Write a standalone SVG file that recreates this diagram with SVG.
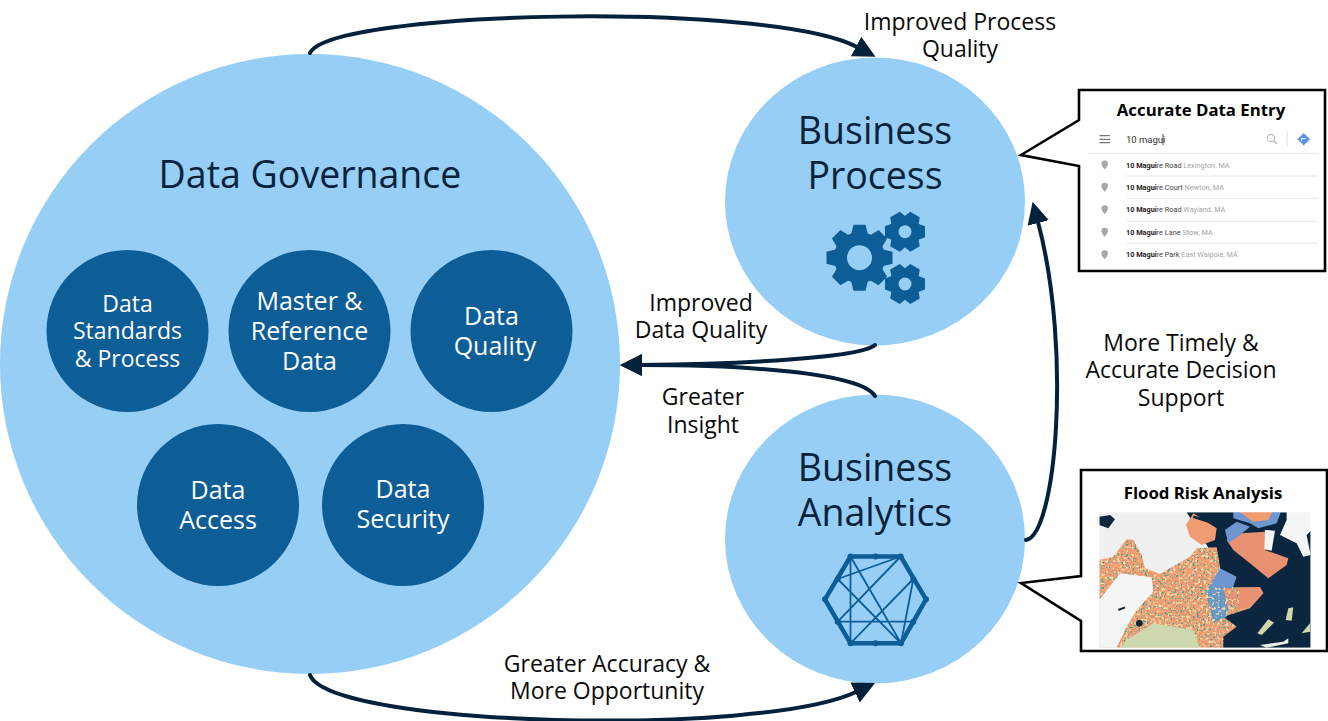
<svg xmlns="http://www.w3.org/2000/svg" xmlns:xlink="http://www.w3.org/1999/xlink" width="1328" height="721" viewBox="0 0 1328 721">
<style>
text{font-family:"Open Sans","Noto Sans","DejaVu Sans",sans-serif;text-anchor:middle}
.light{fill:#97cef6}
.dark{fill:#0d5d96}
.big{font-size:37.500px;fill:#06233b}
.in{font-size:25px;fill:#fff}
.lab{font-size:23px;fill:#0a0a0a}
.conn{fill:none;stroke:#03213a;stroke-width:4;stroke-linecap:round;marker-end:url(#ah)}
.box{fill:#fff;stroke:#000;stroke-width:2.6;stroke-linejoin:miter}
.ttl{font-size:16.800px;font-weight:700;fill:#000}
.row{font-family:Roboto,"Liberation Sans",sans-serif;font-size:7.300px;text-anchor:start;fill:#444}
.row .b{font-weight:700;fill:#222}
.row .g{fill:#a5a5a5}
.hl{stroke:#e6e6e6;stroke-width:1}
.thick{stroke:#0d5d96;stroke-width:4.500;stroke-linecap:round;stroke-linejoin:round;fill:none}
.thin{stroke:#0d5d96;stroke-width:1.800;fill:none}
</style>
<defs>
<marker id="ah" markerUnits="userSpaceOnUse" markerWidth="26" markerHeight="26" refX="1" refY="11" orient="auto"><path d="M0,0L22,11L0,22Z" fill="#03213a"/></marker>
<polygon id="t1" points="-6,-33 6,-33 8.500,-23 -8.500,-23" fill="#0d5d96"/>
<polygon id="t2" points="-5.500,-20 5.500,-20 8.500,-12 -8.500,-12" fill="#0d5d96"/>
<g id="g2"><circle r="10.500" fill="none" stroke="#0d5d96" stroke-width="8"/><use xlink:href="#t2" transform="rotate(30)"/><use xlink:href="#t2" transform="rotate(90)"/><use xlink:href="#t2" transform="rotate(150)"/><use xlink:href="#t2" transform="rotate(210)"/><use xlink:href="#t2" transform="rotate(270)"/><use xlink:href="#t2" transform="rotate(330)"/></g>
<path id="pn" d="M0,-4.500a3.300,3.300 0 0 1 3.300,3.300c0,2.300-3.300,5.700-3.300,5.700s-3.300-3.400-3.300-5.700a3.300,3.300 0 0 1 3.300-3.300Z" fill="#a8a8a8"/>
<filter id="sp1" x="0" y="0" width="1" height="1"><feTurbulence type="fractalNoise" baseFrequency="0.16" numOctaves="2" seed="4"/><feColorMatrix values="0 0 0 0 0 0 0 0 0 0 0 0 0 0 0 0 0 0 8 -4.700"/><feComposite in="SourceGraphic" operator="in"/></filter>
<filter id="sp2" x="0" y="0" width="1" height="1"><feTurbulence type="fractalNoise" baseFrequency="0.12" numOctaves="2" seed="11"/><feColorMatrix values="0 0 0 0 0 0 0 0 0 0 0 0 0 0 0 0 0 0 7 -3.800"/><feComposite in="SourceGraphic" operator="in"/></filter>
<filter id="soft" x="-5%" y="-5%" width="110%" height="110%"><feGaussianBlur stdDeviation="1.800"/></filter>
<clipPath id="land"><path d="M238,300L280,290L320,238L340,240L365,285L375,325L420,342L510,290L530,265L590,262L600,320L570,382L720,382L730,400L690,445L610,470L650,500L610,530L610,563L238,563Z"/></clipPath>
<clipPath id="mapc"><rect x="238" y="157" width="634" height="406"/></clipPath>
</defs>
<rect width="1328" height="721" fill="#fff"/>

<g id="data-governance">
<circle class="light" cx="310" cy="364" r="310"/>
<text class="big" x="310" y="188">Data Governance</text>
</g>
<g id="data-standards"><circle class="dark" cx="127.500" cy="331" r="81"/><text class="in" style="font-size:23px" x="127.500" y="312">Data</text><text class="in" style="font-size:23px" x="127.500" y="339">Standards</text><text class="in" style="font-size:23px" x="127.500" y="367">&amp; Process</text></g>
<g id="master-reference"><circle class="dark" cx="309.500" cy="331" r="81"/><text class="in" x="309.500" y="310">Master &amp;</text><text class="in" x="309.500" y="340">Reference</text><text class="in" x="309.500" y="370">Data</text></g>
<g id="data-quality"><circle class="dark" cx="491.500" cy="331" r="81"/><text class="in" x="491.500" y="325">Data</text><text class="in" x="495" y="355">Quality</text></g>
<g id="data-access"><circle class="dark" cx="218" cy="505" r="81"/><text class="in" x="218" y="499">Data</text><text class="in" x="218" y="529">Access</text></g>
<g id="data-security"><circle class="dark" cx="403" cy="505" r="81"/><text class="in" x="403" y="498">Data</text><text class="in" x="403" y="528">Security</text></g>

<g id="business-process">
<ellipse class="light" cx="875" cy="201.500" rx="150" ry="144"/>
<text class="big" x="875" y="144">Business</text><text class="big" x="875" y="189">Process</text>
<g transform="translate(859.500,257.700)"><circle r="19" fill="none" stroke="#0d5d96" stroke-width="13"/><use xlink:href="#t1"/><use xlink:href="#t1" transform="rotate(45)"/><use xlink:href="#t1" transform="rotate(90)"/><use xlink:href="#t1" transform="rotate(135)"/><use xlink:href="#t1" transform="rotate(180)"/><use xlink:href="#t1" transform="rotate(225)"/><use xlink:href="#t1" transform="rotate(270)"/><use xlink:href="#t1" transform="rotate(315)"/></g>
<use xlink:href="#g2" x="905" y="231.700"/>
<use xlink:href="#g2" x="905" y="284"/>
</g>

<g id="business-analytics">
<ellipse class="light" cx="875" cy="539" rx="150" ry="144.500"/>
<text class="big" x="875" y="481">Business</text><text class="big" x="875" y="526">Analytics</text>
<path class="thick" d="M850.500,556.500H900.700L926,599.300L901,643.300H850.500L825,599.300Z"/>
<path class="thin" d="M850.500,556.500V643.300M837.700,579L900.700,556.500M850.500,556.500L901,643.300M900.700,556.500L837.700,621.700M913.300,579L850.500,643.300M837.700,579L901,643.300M837.700,621.700H913.300M913.300,579L901,643.300"/>
<g class="dark"><circle cx="850.500" cy="556.500" r="3"/><circle cx="875.700" cy="556.500" r="3"/><circle cx="900.700" cy="556.500" r="3"/><circle cx="913.300" cy="579" r="3"/><circle cx="926" cy="599.300" r="3"/><circle cx="913.300" cy="621.700" r="3"/><circle cx="901" cy="643.300" r="3"/><circle cx="875.700" cy="643.300" r="3"/><circle cx="850.500" cy="643.300" r="3"/><circle cx="837.700" cy="621.700" r="3"/><circle cx="825" cy="599.300" r="3"/><circle cx="837.700" cy="579" r="3"/></g>
</g>

<g id="connectors">
<path class="conn" d="M310,53C330,10 770,1 857,47"/>
<path class="conn" d="M310,675C330,727 760,737 856,692"/>
<path class="conn" d="M875,345C860,358 740,364 641,365"/>
<path class="conn" d="M875,396C860,372 740,365 641,365"/>
<path class="conn" d="M1026,540C1056,535 1072,350 1038,222"/>
</g>

<g id="labels">
<text class="lab" x="960" y="30">Improved Process</text><text class="lab" x="960" y="57">Quality</text>
<text class="lab" x="701" y="311">Improved</text><text class="lab" x="701" y="338">Data Quality</text>
<text class="lab" x="703" y="405">Greater</text><text class="lab" x="703" y="433">Insight</text>
<text class="lab" x="1181" y="351">More Timely &amp;</text><text class="lab" x="1181" y="378">Accurate Decision</text><text class="lab" x="1181" y="406">Support</text>
<text class="lab" x="607" y="672">Greater Accuracy &amp;</text><text class="lab" x="607" y="699">More Opportunity</text>
</g>

<g id="accurate-data-entry">
<path class="box" d="M1079,120V90H1325V271H1079V166L1021,155Z"/>
<text class="ttl" x="1201" y="116">Accurate Data Entry</text>
<path d="M1099.500,135.700H1110M1099.500,139.300H1110M1099.500,142.700H1110" stroke="#777" stroke-width="1.200"/>
<text class="row" x="1126" y="143" style="font-size:9.500px;fill:#333">10 magui</text>
<path d="M1163,134V145" stroke="#222" stroke-width=".8"/>
<circle cx="1271" cy="138" r="3.600" fill="none" stroke="#bbb" stroke-width="1.100"/><path d="M1273.700,140.700L1277,144" stroke="#bbb" stroke-width="1.300"/>
<path d="M1287.300,131V147" stroke="#e2e2e2"/>
<path d="M1303.700,133L1310,139.300L1303.700,145.600L1297.400,139.300Z" fill="#5b93ee"/><path d="M1301.500,141V138.500H1305.500" stroke="#fff" fill="none"/>
<path class="hl" d="M1088,153.300H1318M1126,176H1318M1126,198.300H1318M1126,221.300H1318M1126,243.300H1318"/>
<use xlink:href="#pn" x="1104.700" y="165"/><use xlink:href="#pn" x="1104.700" y="187.300"/><use xlink:href="#pn" x="1104.700" y="209.700"/><use xlink:href="#pn" x="1104.700" y="232.300"/><use xlink:href="#pn" x="1104.700" y="254.700"/>
<text class="row" x="1126" y="167.500"><tspan class="b">10 Magui</tspan>re Road <tspan class="g">Lexington, MA</tspan></text>
<text class="row" x="1126" y="189.800"><tspan class="b">10 Magui</tspan>re Court <tspan class="g">Newton, MA</tspan></text>
<text class="row" x="1126" y="212.200"><tspan class="b">10 Magui</tspan>re Road <tspan class="g">Wayland, MA</tspan></text>
<text class="row" x="1126" y="234.800"><tspan class="b">10 Magui</tspan>re Lane <tspan class="g">Stow, MA</tspan></text>
<text class="row" x="1126" y="257.200"><tspan class="b">10 Magui</tspan>re Park <tspan class="g">East Walpole, MA</tspan></text>
</g>

<g id="flood-risk-analysis">
<path class="box" d="M1081,576V470H1327V651H1081V621L1021,583Z"/>
<text class="ttl" x="1203" y="499">Flood Risk Analysis</text>
<g transform="translate(1020,460) scale(.3333)"><g clip-path="url(#mapc)"><g filter="url(#soft)">
<rect x="230" y="150" width="650" height="420" fill="#eff0ef"/>
<path d="M238,170L270,165L285,178L265,205L238,195Z" fill="#0b2840"/>
<path d="M500,157H872V563H600V320Z" fill="#0b2840"/>
<path d="M640,150H785L770,190L715,205L690,190L640,175Z" fill="#6f96cf"/>
<path d="M650,150H760L745,180L700,185Z" fill="#ef9c73"/>
<path d="M780,225L800,180L800,150H880V205L860,225L872,285L850,290L830,250Z" fill="#f3f4f4"/>
<path d="M238,300L280,290L320,238L340,240L365,285L375,325L420,342L510,290L530,265L590,262L600,320L570,382L720,382L730,400L690,445L610,470L650,500L610,530L610,563L238,563Z" fill="#ef9c73"/>
<path d="M620,240L665,220L735,215L735,270L805,295L800,315L745,355L690,310L640,270Z" fill="#e9916f"/>
<path d="M735,210L765,212L755,272L733,268Z" fill="#f6f6f6"/>
<path d="M498,195L520,160L590,205L585,240L545,255L510,230Z" fill="#ef9c73"/>
<path d="M615,210L650,185L690,200L660,225L625,250Z" fill="#6f96cf"/>
<path d="M555,400L600,325L650,350L640,380L620,470L580,490L570,440Z" fill="#6f96cf"/>
<path d="M610,385L720,382L730,400L690,440L625,450Z" fill="#e9916f"/>
<rect x="238" y="230" width="420" height="333" clip-path="url(#land)" fill="#35a397" filter="url(#sp1)"/>
<rect x="238" y="230" width="420" height="333" clip-path="url(#land)" fill="#f5d9a4" filter="url(#sp2)"/>
<path d="M238,420L300,340L395,352L400,395L350,450L320,500L290,563H238Z" fill="#f4f5f5"/>
<path d="M320,540L400,490L520,510L540,563H300Z" fill="#cdd8ae"/>
<path d="M520,170L600,195L625,170" fill="none" stroke="#0b2840" stroke-width="8"/>
<circle cx="358" cy="490" r="10" fill="#0b2840"/><path d="M295,450L315,442" stroke="#0b2840" stroke-width="6"/>
<path d="M797,480L805,445L820,442L815,482Z" fill="#cfd6a8"/>
<path d="M712,520L745,478L762,488L725,525Z" fill="#cfd6a8"/>
<path d="M845,520L870,490V515Z" fill="#cfd6a8"/>
<path d="M720,555L790,545L805,535L805,550L740,563Z" fill="#e8efe6"/>
</g></g></g>
</g>
</svg>
